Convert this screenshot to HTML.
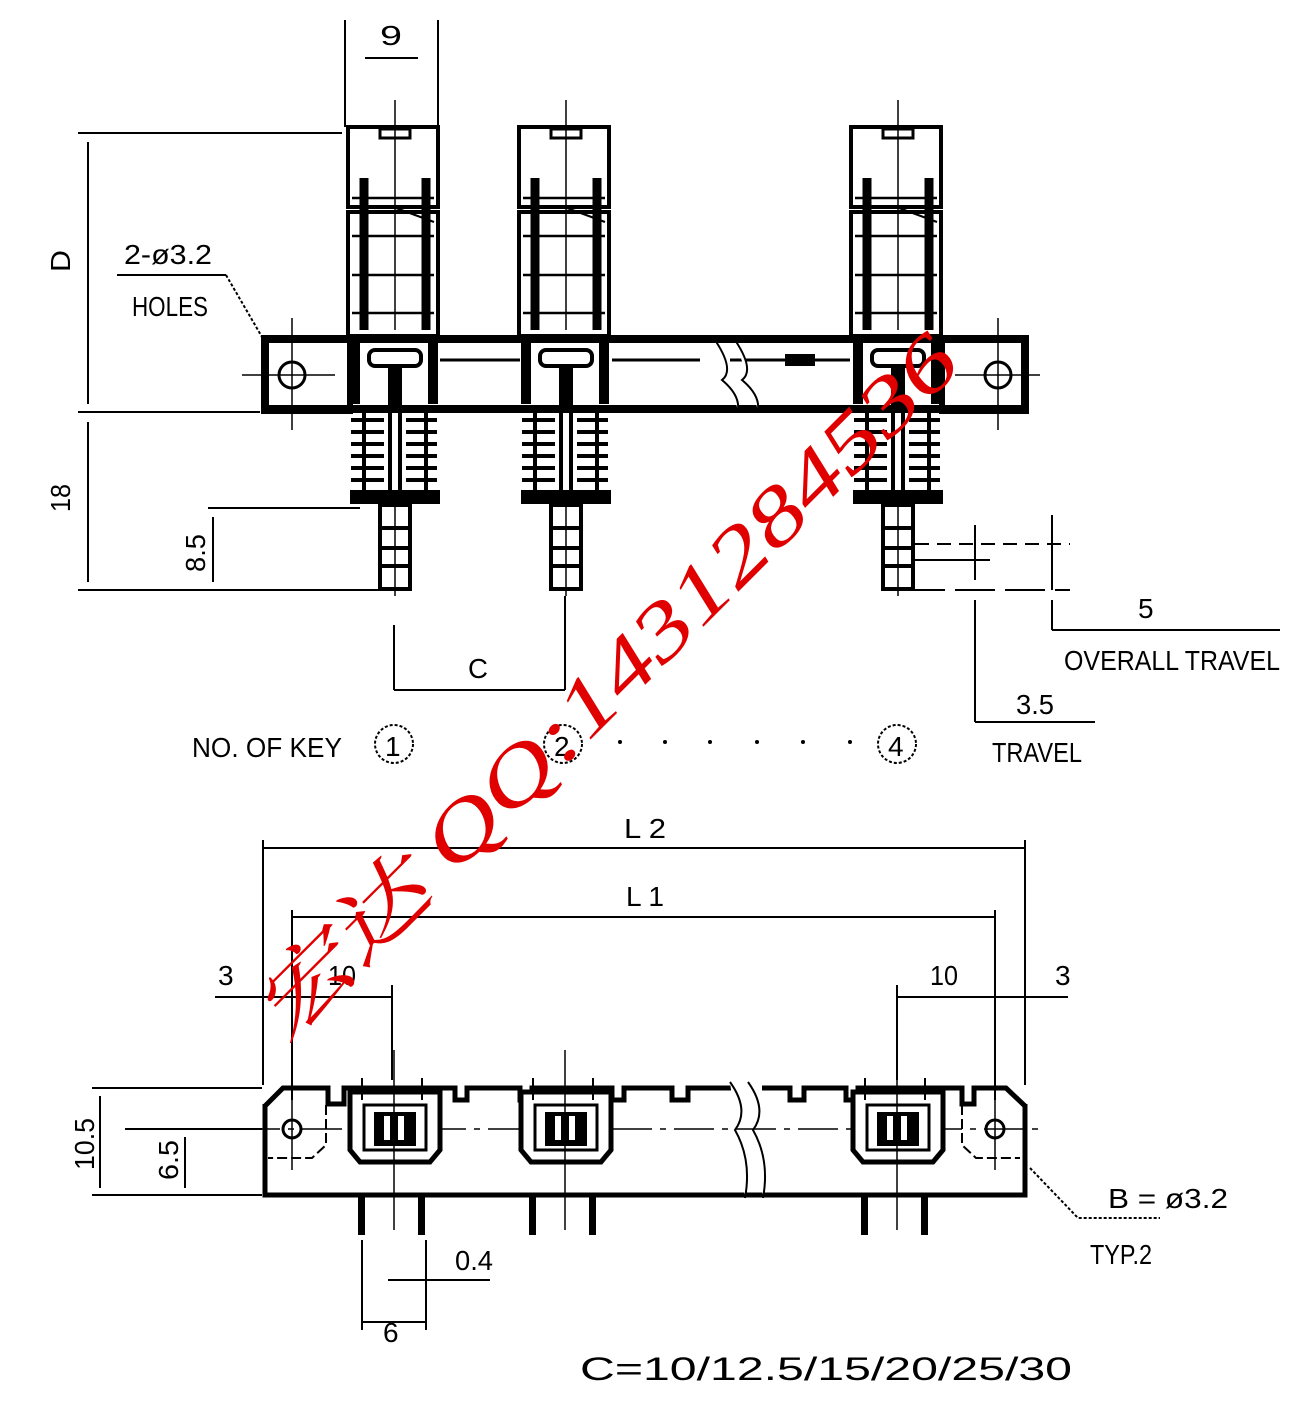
<!DOCTYPE html>
<html><head><meta charset="utf-8"><style>
html,body{margin:0;padding:0;background:#fff}
svg{display:block}
text{font-family:"Liberation Sans","DejaVu Sans",sans-serif;fill:#000}
</style></head><body>
<svg width="1296" height="1404" viewBox="0 0 1296 1404" xmlns="http://www.w3.org/2000/svg">
<defs>
<g id="key">
  <rect x="-46" y="127" width="90" height="80" fill="none" stroke="#000" stroke-width="4"/>
  <rect x="-46" y="212" width="90" height="124" fill="none" stroke="#000" stroke-width="4"/>
  <rect x="-14" y="129" width="30" height="9" fill="none" stroke="#000" stroke-width="3"/>
  <line x1="1" y1="100" x2="1" y2="330" stroke="#000" stroke-width="1.5"/>
  <line x1="-42" y1="198" x2="40" y2="198" stroke="#000" stroke-width="2.5"/>
  <line x1="-42" y1="236" x2="40" y2="236" stroke="#000" stroke-width="2.5"/>
  <line x1="-42" y1="275" x2="40" y2="275" stroke="#000" stroke-width="2.5"/>
  <line x1="-42" y1="313" x2="40" y2="313" stroke="#000" stroke-width="2.5"/>
  <path d="M-30 178 V330 M32 178 V330" stroke="#000" stroke-width="9"/>
  <path d="M2 208 L40 222" stroke="#000" stroke-width="2" fill="none"/>
  <rect x="-44" y="340" width="10" height="64" fill="#000"/>
  <rect x="34" y="340" width="10" height="64" fill="#000"/>
  <rect x="-25" y="350" width="52" height="16" rx="6" fill="none" stroke="#000" stroke-width="4"/>
  <rect x="-6" y="366" width="14" height="44" fill="#000"/>
  <g stroke="#000" stroke-width="4">
    <line x1="-43" y1="420" x2="-10" y2="420"/><line x1="12" y1="420" x2="43" y2="420"/>
    <line x1="-43" y1="432" x2="-10" y2="432"/><line x1="12" y1="432" x2="43" y2="432"/>
    <line x1="-43" y1="444" x2="-10" y2="444"/><line x1="12" y1="444" x2="43" y2="444"/>
    <line x1="-43" y1="456" x2="-10" y2="456"/><line x1="12" y1="456" x2="43" y2="456"/>
    <line x1="-43" y1="468" x2="-10" y2="468"/><line x1="12" y1="468" x2="43" y2="468"/>
    <line x1="-43" y1="480" x2="-10" y2="480"/><line x1="12" y1="480" x2="43" y2="480"/>
    <line x1="-30" y1="412" x2="-30" y2="490"/><line x1="32" y1="412" x2="32" y2="490"/>
    <line x1="-4" y1="412" x2="-4" y2="495"/><line x1="6" y1="412" x2="6" y2="495"/>
  </g>
  <rect x="-44" y="490" width="90" height="14" fill="#000"/>
  <rect x="-14" y="505" width="30" height="84" fill="none" stroke="#000" stroke-width="4"/>
  <line x1="-14" y1="528" x2="16" y2="528" stroke="#000" stroke-width="4"/>
  <line x1="-14" y1="548" x2="16" y2="548" stroke="#000" stroke-width="4"/>
  <line x1="-14" y1="566" x2="16" y2="566" stroke="#000" stroke-width="4"/>
  <line x1="1" y1="505" x2="1" y2="596" stroke="#000" stroke-width="1.5"/>
</g>
<g id="bkey">
  <path d="M-44 1092 H46 V1150 L36 1162 H-34 L-44 1150 Z" fill="#fff" stroke="#000" stroke-width="5"/>
  <rect x="-30" y="1105" width="62" height="45" fill="none" stroke="#000" stroke-width="3"/>
  <rect x="-20" y="1112" width="42" height="34" fill="#000"/>
  <rect x="-10" y="1116" width="6" height="24" fill="#fff"/>
  <rect x="4" y="1116" width="6" height="24" fill="#fff"/>
  <line x1="0" y1="1050" x2="0" y2="1230" stroke="#000" stroke-width="1.5"/>
  <rect x="-36" y="1195" width="7" height="40" fill="#000"/>
  <rect x="24" y="1195" width="7" height="40" fill="#000"/>
  <line x1="-32" y1="1078" x2="-32" y2="1100" stroke="#000" stroke-width="2"/>
  <line x1="28" y1="1078" x2="28" y2="1100" stroke="#000" stroke-width="2"/>
  <circle cx="0" cy="1090" r="4" fill="#000"/>
</g>
</defs>

<!-- ===== TOP VIEW ===== -->
<rect x="265" y="339" width="760" height="70" fill="none" stroke="#000" stroke-width="8"/>
<line x1="440" y1="360" x2="520" y2="360" stroke="#000" stroke-width="3"/>
<line x1="612" y1="360" x2="700" y2="360" stroke="#000" stroke-width="3"/>
<line x1="730" y1="360" x2="850" y2="360" stroke="#000" stroke-width="3"/>
<rect x="785" y="354" width="30" height="12" fill="#000"/>
<path d="M715 340 Q735 370 722 380 Q740 395 738 410 M735 340 Q755 370 742 380 Q760 395 758 410" stroke="#000" stroke-width="2" fill="#fff"/>
<g stroke="#000" fill="none" stroke-width="3">
  <circle cx="292" cy="375" r="13"/><circle cx="998" cy="375" r="13"/>
</g>
<g stroke="#000" stroke-width="1.5">
  <line x1="292" y1="318" x2="292" y2="430"/><line x1="242" y1="375" x2="335" y2="375"/>
  <line x1="998" y1="318" x2="998" y2="430"/><line x1="955" y1="375" x2="1040" y2="375"/>
</g>
<rect x="264" y="339" width="86" height="72" fill="none" stroke="#000" stroke-width="6"/>
<rect x="942" y="339" width="84" height="72" fill="none" stroke="#000" stroke-width="6"/>

<use href="#key" x="394" y="0"/>
<use href="#key" x="565" y="0"/>
<use href="#key" x="897" y="0"/>

<g stroke="#000" stroke-width="2" fill="none">
  <line x1="345" y1="20" x2="345" y2="127"/><line x1="438" y1="20" x2="438" y2="127"/>
  <line x1="365" y1="58" x2="418" y2="58"/>
  <line x1="78" y1="133" x2="342" y2="133"/>
  <line x1="88" y1="142" x2="88" y2="404"/>
  <line x1="78" y1="412" x2="260" y2="412"/>
  <line x1="88" y1="422" x2="88" y2="582"/>
  <line x1="78" y1="590" x2="390" y2="590"/>
  <line x1="208" y1="508" x2="360" y2="508"/>
  <line x1="213" y1="517" x2="213" y2="582"/>
  <line x1="117" y1="275" x2="226" y2="275"/>
  <path d="M226 275 L262 337" stroke-dasharray="3 2"/>
  <line x1="394" y1="625" x2="394" y2="690"/><line x1="565" y1="596" x2="565" y2="690"/>
  <line x1="394" y1="690" x2="565" y2="690"/>
  <path d="M915 544 H1070" stroke-dasharray="14 8"/>
  <line x1="915" y1="560" x2="990" y2="560"/>
  <path d="M905 590 H1070" stroke-dasharray="40 10"/>
  <line x1="975" y1="525" x2="975" y2="580"/>
  <line x1="975" y1="600" x2="975" y2="722"/>
  <line x1="975" y1="722" x2="1095" y2="722"/>
  <line x1="1052" y1="515" x2="1052" y2="590"/>
  <line x1="1052" y1="600" x2="1052" y2="630"/>
  <line x1="1052" y1="630" x2="1280" y2="630"/>
</g>
<text x="380" y="45" font-size="28" textLength="22" lengthAdjust="spacingAndGlyphs">9</text>
<text transform="translate(70,272) rotate(-90)" font-size="28" textLength="22" lengthAdjust="spacingAndGlyphs">D</text>
<text transform="translate(70,512) rotate(-90)" font-size="28" textLength="28" lengthAdjust="spacingAndGlyphs">18</text>
<text transform="translate(205,572) rotate(-90)" font-size="28" textLength="38" lengthAdjust="spacingAndGlyphs">8.5</text>
<text x="124" y="264" font-size="28" textLength="88" lengthAdjust="spacingAndGlyphs">2-ø3.2</text>
<text x="132" y="316" font-size="28" textLength="76" lengthAdjust="spacingAndGlyphs">HOLES</text>
<text x="468" y="678" font-size="28" textLength="20" lengthAdjust="spacingAndGlyphs">C</text>
<text x="192" y="757" font-size="28" textLength="150" lengthAdjust="spacingAndGlyphs">NO. OF KEY</text>
<g fill="none" stroke="#000" stroke-width="2" stroke-dasharray="3 2">
  <circle cx="394" cy="744" r="19"/><circle cx="563" cy="744" r="19"/><circle cx="897" cy="744" r="19"/>
</g>
<text x="385" y="756" font-size="28">1</text>
<text x="554" y="756" font-size="28">2</text>
<text x="888" y="756" font-size="28">4</text>
<g fill="#000"><circle cx="620" cy="742" r="2"/><circle cx="665" cy="742" r="2"/><circle cx="710" cy="742" r="2"/><circle cx="757" cy="742" r="2"/><circle cx="803" cy="742" r="2"/><circle cx="850" cy="742" r="2"/></g>
<text x="1138" y="618" font-size="28">5</text>
<text x="1064" y="670" font-size="28" textLength="216" lengthAdjust="spacingAndGlyphs">OVERALL TRAVEL</text>
<text x="1016" y="714" font-size="28" textLength="38" lengthAdjust="spacingAndGlyphs">3.5</text>
<text x="992" y="762" font-size="28" textLength="90" lengthAdjust="spacingAndGlyphs">TRAVEL</text>

<!-- ===== BOTTOM VIEW ===== -->
<g stroke="#000" stroke-width="2" fill="none">
  <line x1="263" y1="840" x2="263" y2="1085"/><line x1="1025" y1="840" x2="1025" y2="1085"/>
  <line x1="263" y1="848" x2="1025" y2="848"/>
  <line x1="292" y1="910" x2="292" y2="1100"/><line x1="995" y1="910" x2="995" y2="1100"/>
  <line x1="292" y1="917" x2="995" y2="917"/>
  <line x1="215" y1="997" x2="392" y2="997"/><line x1="392" y1="985" x2="392" y2="1080"/>
  <line x1="897" y1="997" x2="1068" y2="997"/><line x1="897" y1="985" x2="897" y2="1080"/>
  <line x1="92" y1="1088" x2="262" y2="1088"/><line x1="92" y1="1195" x2="262" y2="1195"/>
  <line x1="100" y1="1096" x2="100" y2="1188"/>
  <line x1="125" y1="1129" x2="262" y2="1129"/>
  <line x1="185" y1="1137" x2="185" y2="1188"/>
  <line x1="362" y1="1240" x2="362" y2="1330"/><line x1="426" y1="1240" x2="426" y2="1330"/>
  <line x1="362" y1="1322" x2="426" y2="1322"/>
  <line x1="388" y1="1280" x2="490" y2="1280"/>
  <path d="M1030 1168 L1078 1218 H1160" stroke-dasharray="3 2"/>
</g>
<!-- body outline -->
<g fill="none" stroke="#000" stroke-width="5">
<path d="M265 1106 L283 1088 H328 V1104 H344 V1088 H455 V1100 H467 V1088 H520 V1100 H532 V1088 H612 V1100 H624 V1088 H672 V1100 H688 V1088 H732"/>
<path d="M762 1088 H790 V1100 H804 V1088 H846 V1100 H858 V1088 H962 V1104 H974 V1088 H1006 L1025 1106"/>
<path d="M265 1104 V1195 H1025 V1104"/>
</g>
<path d="M730 1082 Q750 1110 735 1130 Q752 1160 745 1198 M748 1082 Q768 1110 753 1130 Q770 1160 763 1198" stroke="#000" stroke-width="2" fill="#fff"/>
<line x1="240" y1="1129" x2="1040" y2="1129" stroke="#000" stroke-width="1.5" stroke-dasharray="40 8 6 8"/>
<g fill="none" stroke="#000" stroke-width="3"><circle cx="292" cy="1129" r="9"/><circle cx="995" cy="1129" r="9"/></g>
<path d="M326 1105 V1145 L312 1158 H268" fill="none" stroke="#000" stroke-width="2" stroke-dasharray="10 4"/>
<path d="M962 1105 V1145 L976 1158 H1020" fill="none" stroke="#000" stroke-width="2" stroke-dasharray="10 4"/>
<use href="#bkey" x="394" y="0"/>
<use href="#bkey" x="565" y="0"/>
<use href="#bkey" x="897" y="0"/>
<line x1="292" y1="1100" x2="292" y2="1170" stroke="#000" stroke-width="1.5"/>
<line x1="995" y1="1100" x2="995" y2="1170" stroke="#000" stroke-width="1.5"/>

<text x="624" y="838" font-size="28" textLength="42" lengthAdjust="spacingAndGlyphs">L 2</text>
<text x="626" y="906" font-size="28" textLength="38" lengthAdjust="spacingAndGlyphs">L 1</text>
<text x="218" y="985" font-size="28">3</text>
<text x="328" y="985" font-size="28" textLength="28" lengthAdjust="spacingAndGlyphs">10</text>
<text x="930" y="985" font-size="28" textLength="28" lengthAdjust="spacingAndGlyphs">10</text>
<text x="1055" y="985" font-size="28">3</text>
<text transform="translate(94,1170) rotate(-90)" font-size="28" textLength="52" lengthAdjust="spacingAndGlyphs">10.5</text>
<text transform="translate(178,1180) rotate(-90)" font-size="28" textLength="40" lengthAdjust="spacingAndGlyphs">6.5</text>
<text x="455" y="1270" font-size="28" textLength="38" lengthAdjust="spacingAndGlyphs">0.4</text>
<text x="383" y="1342" font-size="28">6</text>
<text x="1108" y="1208" font-size="28" textLength="120" lengthAdjust="spacingAndGlyphs">B = ø3.2</text>
<text x="1090" y="1264" font-size="28" textLength="62" lengthAdjust="spacingAndGlyphs">TYP.2</text>
<text x="580" y="1380" font-size="32" textLength="492" lengthAdjust="spacingAndGlyphs" font-family="Liberation Mono,monospace">C=10/12.5/15/20/25/30</text>

<text transform="translate(285,1045) rotate(-45)" font-size="80" style="font-family:'Liberation Serif','Noto Serif CJK SC',serif;fill:#e00000;font-style:italic" textLength="960" lengthAdjust="spacingAndGlyphs">宏达 QQ:1431284536</text>
</svg>
</body></html>
